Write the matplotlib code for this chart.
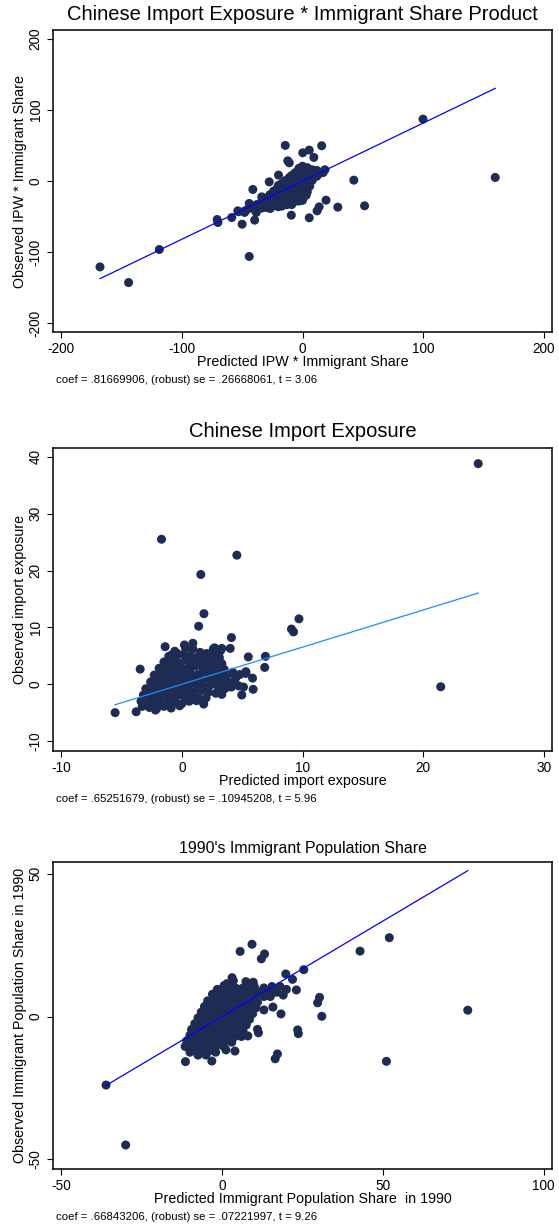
import matplotlib
matplotlib.use("Agg")
import matplotlib.pyplot as plt

plt.rcParams['font.family'] = ['Liberation Sans', 'DejaVu Sans']
plt.rcParams['axes.unicode_minus'] = False

# ---------------------------------------------------------------------------
# Data: predicted vs observed values for the three first-stage regressions
# ---------------------------------------------------------------------------
ipw_pred = [
    -168, -144.3, -118.8, -44.2, -70.8, -70.2, -58.7, -50.1, 100, 159.9, 42.6, 51.5,
    29.3, 19.5, 5.6, -14.3, 15.9, 0.2, 5.6, 9.4, -12.2, -11, -41.2, -19.9, -9.3,
    12.1, 13.8, -39.7, -27.6, 18.6, -53.7, -44.2, -33.8, -38.4, -26.8,
    -3, 0, 4, 8, 12, 17,
    -9, -6, -2, 2, 6, 10, 14, 17,
    -14, -11, -7, -3, 1, 5, 9, 12,
    -20, -17, -13, -9, -5, -1, 3, 6, 8,
    -24, -21, -17, -13, -9, -5, -1, 3, 6,
    -30, -27, -24, -20, -16, -12, -8, -4, 0, 4,
    -33, -29, -25, -21, -17, -13, -9, -5, -1, 3,
    -42, -38, -35, -31, -27, -23, -19, -15, -11, -7, -3, 0,
    -48, -45, -41, -37, -33, -29, -25, -21, -17, -13, -9,
    -53, -48, -40, -34, -30, -20,
]
ipw_obs = [
    -120.7, -142.7, -96.2, -106, -54, -58.2, -51.2, -60.6, 87.3, 5.2, 1.4, -34.7,
    -36.6, -26.8, -51.6, 50.3, 49.8, 39.9, 43.7, 33.4, 28.6, 25.8, -11.7, 8.5, -47.9,
    -41.8, -36.2, -54.9, -1, 16, -41.8, -31.4, -22.1, -44.1, -38.5,
    18, 21, 19, 16, 15, 13,
    8, 12, 13, 13, 12, 12, 11, 12,
    1, 5, 5, 6, 6, 6, 5, 7,
    -6, -3, -2, -1, -2, -1, -1, 0, 1,
    -14, -10, -9, -9, -8, -9, -8, -9, -7,
    -24, -19, -18, -16, -16, -15, -16, -15, -16, -15,
    -29, -26, -24, -23, -23, -22, -23, -22, -23, -20,
    -36, -33, -31, -30, -30, -31, -29, -30, -29, -29, -28, -27,
    -42, -39, -38, -37, -36, -35, -35, -35, -35, -33, -33,
    -43, -44, -39, -38, -37, -36,
]

imp_pred = [
    24.57, -1.7, 4.55, 1.56, 1.82, 1.38, 9.7, 9.08, 9.25, 21.46, -5.55, -3.47,
    6.92, 6.86, 5.5, 4.1, -1.4, 0.2, 2.7, 5.85, 5.9, 4.96, 1.8, -3.8, -2.2, 4.0, 3.3,
    2.45, 3.4, 4.1, 5.3, 4.5, 2.95, -0.9, -0.4, -2.4, -3.0, -3.3, 0.9, 2.05, 3.25,
    -0.6, 0.3, 0.9, 1.5, 2.6, 3.2,
    -1.1, -0.5, 0.1, 0.7, 1.3, 1.9, 2.5, 3.1,
    -1.5, -0.9, -0.3, 0.3, 0.9, 1.5, 2.1, 2.7, 3.3,
    -1.9, -1.3, -0.7, -0.1, 0.5, 1.1, 1.7, 2.3, 2.9, 3.5, 4.2, 4.8, 5.3,
    -2.3, -1.7, -1.1, -0.5, 0.1, 0.7, 1.3, 1.9, 2.5, 3.1, 3.7, 4.4,
    -2.6, -2.0, -1.4, -0.8, -0.2, 0.4, 1.0, 1.6, 2.2, 2.8, 3.4, 4.0, 4.7,
    -3.0, -2.4, -1.8, -1.2, -0.6, 0.0, 0.6, 1.2, 1.8, 2.4, 3.0, 3.6, 5.1,
    -3.2, -2.6, -2.0, -1.4, -0.8, -0.2, 0.4, 1.0, 1.6, 2.2, 2.8, 3.3,
    -3.4, -2.8, -2.2, -1.6, -1.0, -0.4, 0.2, 0.8, 1.4, 2.0,
    -3.0, -2.4, -1.8, -1.2, -0.6, 0.0, 0.6, 1.2,
    -2.7, -2.1, -1.5, -0.9, -0.2,
]
imp_obs = [
    38.8, 25.5, 22.7, 19.3, 12.4, 10.2, 11.5, 9.7, 9.2, -0.45, -5.0, 2.65,
    4.9, 2.95, 4.8, 8.2, 6.6, 6.9, 6.4, 1.07, -0.9, -1.9, -3.5, -4.85, -4.55, 6.3, 6.3,
    1.9, -1.0, -0.5, 2.2, 1.3, 6.0, 5.1, 5.4, 0.25, -1.6, -3.9, 7.2, 5.4, 3.7,
    5.8, 6.3, 6.2, 5.6, 6.2, 5.9,
    4.9, 5.0, 5.2, 5.0, 4.8, 4.6, 5.0, 4.7,
    3.9, 4.1, 3.8, 4.2, 3.9, 4.1, 3.8, 4.0, 3.6,
    2.8, 3.1, 2.9, 3.0, 2.8, 3.2, 2.9, 3.1, 2.8, 2.6, 2.1, 1.7, 1.9,
    1.6, 2.0, 1.8, 2.1, 1.9, 2.0, 1.7, 2.1, 1.8, 1.9, 1.5, 0.9,
    0.4, 0.9, 1.0, 0.8, 1.1, 0.9, 1.0, 0.7, 1.0, 0.8, 0.6, 0.2, -0.3,
    -0.8, -0.2, -0.1, 0.0, -0.2, 0.1, -0.1, 0.0, -0.3, -0.1, -0.4, -0.7, -0.5,
    -1.9, -1.2, -1.0, -1.1, -0.9, -1.2, -1.0, -1.3, -1.1, -1.4, -1.6, -1.8,
    -3.0, -2.3, -2.1, -2.0, -2.2, -2.0, -2.3, -2.1, -2.5, -2.4,
    -3.6, -3.2, -3.0, -3.3, -3.1, -3.4, -3.0, -2.9,
    -4.1, -4.3, -3.9, -4.2, -3.8,
]

imm_pred = [
    -36.1, -30, 76.4, 52, 42.9, 51.1, 25.4, 31, 30.3, 29.7, 23.5, 23.7, 16.5, 17.2,
    9.3, 5.6, 13.2, 12.2, 19.8, 23.1, 18.3, 15.8, 4, -3.2, -11.4, 11, 11.3, 8, 1.2,
    21.9, 9.7, 7.4, 3.1, 0.6, 13,
    1.5, 3.5, 8, 10, 13, 15.5, 18, 20,
    -1.5, 0.5, 2.5, 4.5, 6.5, 8.5, 10.5, 12.5, 14.5, 17, 19,
    -3, -1, 1, 3, 5, 7, 9, 11, 13, 15,
    -4.5, -2.5, -0.5, 1.5, 3.5, 5.5, 7.5, 9.5, 11,
    -5.5, -3.5, -1.5, 0.5, 2.5, 4.5, 6.5, 8.5, 10.5,
    -6.5, -4.5, -2.5, -0.5, 1.5, 3.5, 5.5, 7.5, 9.5,
    -7.5, -5.5, -3.5, -1.5, 0.5, 2.5, 4.5, 6.5, 8.5,
    -8.5, -6.5, -4.5, -2.5, -0.5, 1.5, 3.5, 5.5, 7.5,
    -9.5, -7.5, -5.5, -3.5, -1.5, 0.5, 2.5, 4.5, 6.5,
    -10, -8, -6, -4, -2, 0, 2, 4, 6,
    -11, -9, -7, -5, -3, -1, 1, 3,
    -11.5, -9.5, -7.5, -5.5, -3.5, -1.5, 0.5,
    -10, -8, -6, -4, -2,
    -7.5, -5,
]
imm_obs = [
    -24.0, -45, 2.2, 27.6, 22.9, -15.7, 16.4, 0.07, 6.7, 4.8, -4.7, -6.0, -14.8, -13.1,
    25.3, 22.8, 21.9, 20.2, 14.9, 9.3, 0.9, 3.3, -12.1, -15.6, -15.8, -4.5, -5.7, -6.8,
    -11.7, 13, 12, 12.2, 13.6, 10.8, 2.3,
    11.5, 12.5, 11, 10.5, 10, 10.5, 10.5, 9.5,
    9.5, 10, 10.2, 9.8, 10, 9.5, 9.2, 8.5, 8.8, 8.5, 7.5,
    7.8, 8, 7.7, 8.2, 7.8, 8, 7.5, 7.8, 7, 7,
    5.5, 6, 5.8, 6.2, 5.7, 6, 5.5, 5.8, 5,
    3.5, 4, 3.8, 4.2, 3.7, 4, 3.5, 3.8, 3,
    1.5, 2, 1.8, 2.2, 1.7, 2, 1.5, 1.8, 1,
    -0.5, 0, -0.2, 0.2, -0.3, 0, -0.5, -0.2, -1,
    -2.5, -2, -2.2, -1.8, -2.3, -2, -2.5, -2.2, -3,
    -4.5, -4, -4.2, -3.8, -4.3, -4, -4.5, -4.5, -5,
    -6.5, -6, -6.2, -5.8, -6.3, -6, -6.5, -7, -7,
    -8.5, -8, -8.2, -7.8, -8.3, -8, -8.5, -9,
    -10.5, -10, -10.2, -9.8, -10.3, -10, -10.5,
    -12.5, -12, -12.5, -12, -12.5,
    -13.5, -13.5,
]

# Regression statistics reported under each panel
coefs = [0.81669906, 0.65251679, 0.66843206]
ses = [".26668061", ".10945208", ".07221997"]
tstats = ["3.06", "5.96", "9.26"]

titles = ["Chinese Import Exposure * Immigrant Share Product",
          "Chinese Import Exposure",
          "1990's Immigrant Population Share"]
xlabels = ["Predicted IPW * Immigrant Share",
           "Predicted import exposure",
           "Predicted Immigrant Population Share  in 1990"]
ylabels = ["Observed IPW * Immigrant Share",
           "Observed import exposure",
           "Observed Immigrant Population Share in 1990"]
xticks = [[-200, -100, 0, 100, 200], [-10, 0, 10, 20, 30], [-50, 0, 50, 100]]
yticks = [[-200, -100, 0, 100, 200], [-10, 0, 10, 20, 30, 40], [-50, 0, 50]]

# ---------------------------------------------------------------------------
# Layout (pixel geometry of a 559 x 1226 canvas)
# ---------------------------------------------------------------------------
W, H = 559, 1226
fig = plt.figure(figsize=(W / 100, H / 100), dpi=100)
fig.patch.set_facecolor("white")

AX_LEFT, AX_RIGHT = 53, 552
panel_boxes = [(30, 332.3), (448.3, 750.7), (862.3, 1169)]   # top, bottom
xlims = [(-207, 207), (-10.7, 30.69), (-52.6, 102.6)]
ylims = [(-212.7, 212.7), (-11.7, 41.5), (-53.4, 54)]
title_y = [14, 432, 849]
title_size = [14.5, 14.5, 11.4]
xlabel_y = [362, 781, 1199]
note_y = [380, 799, 1216.7]
line_colors = ["#0000ff", "#1e8cff", "#0000ff"]
marker_color = "#1e2c54"

series = [(ipw_pred, ipw_obs), (imp_pred, imp_obs), (imm_pred, imm_obs)]

def fx(px):
    return px / W

def fy(py):
    return 1 - py / H

for i, (xs, ys) in enumerate(series):
    top, bottom = panel_boxes[i]
    ax = fig.add_axes([fx(AX_LEFT), fy(bottom), fx(AX_RIGHT) - fx(AX_LEFT),
                       (bottom - top) / H])
    ax.scatter(xs, ys, s=42, color=marker_color, edgecolors="none", zorder=2)

    # fitted line through the origin over the range of the predicted values
    x0, x1 = min(xs), max(xs)
    ax.plot([x0, x1], [coefs[i] * x0, coefs[i] * x1], color=line_colors[i],
            lw=0.9, zorder=3)

    ax.set_xlim(*xlims[i])
    ax.set_ylim(*ylims[i])
    ax.set_xticks(xticks[i])
    ax.set_yticks(yticks[i])
    ax.set_xticklabels([str(v) for v in xticks[i]])
    ax.set_yticklabels([str(v) for v in yticks[i]], rotation=90, va="center")
    ax.tick_params(direction="out", length=4.3, width=0.8, labelsize=9.8,
                   pad=3)
    for sp in ax.spines.values():
        sp.set_linewidth(1.1)
        sp.set_color("black")

    cx = (AX_LEFT + AX_RIGHT) / 2
    cy = (top + bottom) / 2
    fig.text(fx(cx), fy(title_y[i]), titles[i], ha="center", va="center",
             fontsize=title_size[i])
    fig.text(fx(cx), fy(xlabel_y[i]), xlabels[i], ha="center", va="center",
             fontsize=10.3)
    fig.text(fx(20), fy(cy), ylabels[i], ha="center", va="center",
             rotation=90, fontsize=10.3)
    note = "coef = %s, (robust) se = %s, t = %s" % (
        ("%.8f" % coefs[i])[1:], ses[i], tstats[i])
    fig.text(fx(56), fy(note_y[i]), note, ha="left", va="center", fontsize=8.2)

fig.savefig("out.png", dpi=100, facecolor="white")
